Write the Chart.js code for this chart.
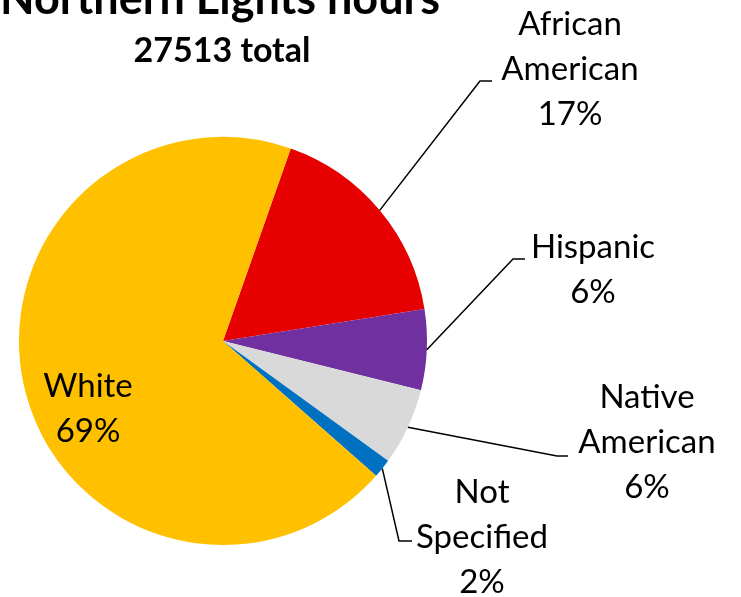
<!DOCTYPE html>
<html>
<head>
<meta charset="utf-8">
<script src="https://cdn.jsdelivr.net/npm/chart.js@4"></script>
<style>
  body { margin: 0; background: #fff; }
  canvas { display: block; }
</style>
</head>
<body>
<canvas id="pie" width="741" height="597"></canvas>
<script>
// data
const categorias = ['African American', 'Hispanic', 'Native American', 'Not Specified', 'White'];
const horas = [4705, 1761, 1678, 413, 18956];
const cores = ['#E60000', '#7030A0', '#D9D9D9', '#0070C0', '#FFC000'];
const titulo = 'Northern Lights hours';
const subtitulo = '27513 total';

// onde vai cada rotulo (linhas quebradas como no original)
const rotulos = [
    { linhas: ['African', 'American'], x: 570, y: 35, cotovelo: [480, 81], fim: [492, 81] },
    { linhas: ['Hispanic'], x: 593, y: 258, cotovelo: [513, 259], fim: [525, 259] },
    { linhas: ['Native', 'American'], x: 647, y: 408, cotovelo: [557, 456], fim: [568, 456] },
    { linhas: ['Not', 'Specified'], x: 482, y: 503, cotovelo: [399, 541], fim: [412, 541] },
    { linhas: ['White'], x: 88, y: 397, cotovelo: null, fim: null }
];

const FONTE = 'Lato, "Open Sans", sans-serif';
const total = horas.reduce((a, b) => a + b, 0);

const rotulosPlugin = {
    id: 'rotulos',
    afterDraw(chart) {
        const ctx = chart.ctx;
        const meta = chart.getDatasetMeta(0);
        ctx.save();
        ctx.fillStyle = '#000';
        ctx.textAlign = 'center';
        ctx.textBaseline = 'alphabetic';

        // titulo (cortado no topo, igual a imagem)
        ctx.font = 'bold 45px ' + FONTE;
        ctx.fillText(titulo, 220, 14);
        ctx.font = 'bold 34px ' + FONTE;
        ctx.fillText(subtitulo, 222, 62);

        ctx.font = '33px ' + FONTE;
        ctx.strokeStyle = '#000';
        ctx.lineWidth = 1.5;
        meta.data.forEach(function (arco, i) {
            const r = rotulos[i];
            const pct = Math.round(horas[i] / total * 100) + '%';
            const linhas = r.linhas.concat([pct]);
            linhas.forEach(function (t, k) {
                ctx.fillText(t, r.x, r.y + k * 45);
            });
            if (r.cotovelo) {
                const meio = (arco.startAngle + arco.endAngle) / 2;
                const px = arco.x + Math.cos(meio) * arco.outerRadius;
                const py = arco.y + Math.sin(meio) * arco.outerRadius;
                ctx.beginPath();
                ctx.moveTo(px, py);
                ctx.lineTo(r.cotovelo[0], r.cotovelo[1]);
                ctx.lineTo(r.fim[0], r.fim[1]);
                ctx.stroke();
            }
        });
        ctx.restore();
    }
};

var ctx = document.getElementById('pie').getContext('2d');
var grafico = new Chart(ctx, {
    type: 'pie',
    data: {
        labels: categorias,
        datasets: [{
            data: horas,
            backgroundColor: cores,
            borderWidth: 0
        }]
    },
    options: {
        responsive: false,
        animation: false,
        rotation: 19.4,
        layout: { padding: { left: 19, right: 314, top: 137, bottom: 52 } },
        plugins: {
            legend: { display: false },
            tooltip: { enabled: false },
            title: { display: false }
        }
    },
    plugins: [rotulosPlugin]
});
</script>
</body>
</html>
